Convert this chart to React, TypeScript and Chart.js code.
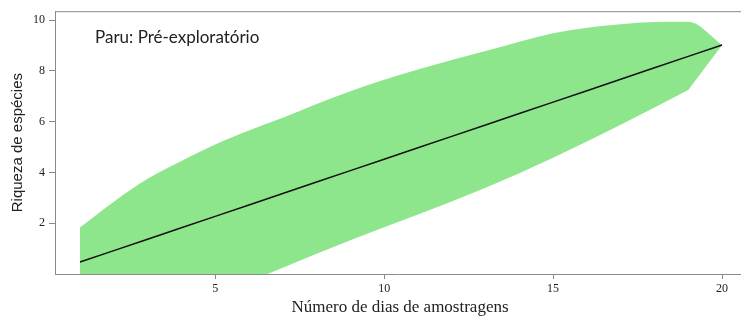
import React, { useEffect, useRef } from "react";
import { Chart, registerables } from "chart.js";

Chart.register(...registerables);

const days = [1, 2, 3, 4, 5, 6, 7, 8, 9, 10, 11, 12, 13, 14, 15, 16, 17, 18, 19, 20];
const meanRichness = [0.47, 0.92, 1.37, 1.82, 2.27, 2.72, 3.17, 3.62, 4.07, 4.52, 4.97, 5.42, 5.87, 6.32, 6.77, 7.22, 7.67, 8.12, 8.57, 9.02];
const upperCI = [1.84, 2.85, 3.75, 4.45, 5.1, 5.65, 6.15, 6.7, 7.2, 7.65, 8.05, 8.43, 8.78, 9.15, 9.48, 9.7, 9.84, 9.92, 9.93, 9.02];
const lowerCI = [-3.0, -2.5, -2.0, -1.5, -0.9, -0.3, 0.25, 0.8, 1.33, 1.84, 2.34, 2.86, 3.4, 3.97, 4.58, 5.22, 5.88, 6.56, 7.25, 9.02];
const xTickValues = [5, 10, 15, 20];
const yTickValues = [2, 4, 6, 8, 10];

const chartTitle = "Paru: Pré-exploratório";
const xTitle = "Número de dias de amostragens";
const yTitle = "Riqueza de espécies";

const AXIS_COLOR = "#8a8a8a";
const SERIF = "'Liberation Serif', 'DejaVu Serif', serif";

export default function App() {
  const ref = useRef<HTMLCanvasElement | null>(null);

  useEffect(() => {
    if (!ref.current) return;
    const textPlugin = {
      id: "textPlugin",
      afterDraw(chart: any) {
        const { ctx, chartArea } = chart;
        ctx.save();
        ctx.strokeStyle = AXIS_COLOR;
        ctx.lineWidth = 1;
        ctx.beginPath();
        ctx.moveTo(chartArea.left, chartArea.top + 0.5);
        ctx.lineTo(chartArea.right, chartArea.top + 0.5);
        ctx.stroke();
        ctx.fillStyle = "#222";
        ctx.font = "17px Lato, 'Open Sans', sans-serif";
        ctx.textAlign = "left";
        ctx.textBaseline = "middle";
        ctx.fillText(chartTitle, 95, 38);
        ctx.font = "17px " + SERIF;
        ctx.textAlign = "center";
        ctx.fillText(xTitle, (chartArea.left + chartArea.right) / 2 + 2, 308);
        ctx.font = "15px 'Liberation Sans', Arial, sans-serif";
        ctx.translate(18, (chartArea.top + chartArea.bottom) / 2);
        ctx.rotate(-Math.PI / 2);
        ctx.fillText(yTitle, 0, 0);
        ctx.restore();
      },
    };

    const chart = new Chart(ref.current, {
      type: "line",
      data: {
        labels: days,
        datasets: [
          {
            label: "Média",
            data: days.map((d, i) => ({ x: d, y: meanRichness[i] })),
            borderColor: "#111",
            borderWidth: 1.5,
            pointRadius: 0,
            fill: false,
            order: 0,
          },
          {
            label: "Superior",
            data: days.map((d, i) => ({ x: d, y: upperCI[i] })),
            borderWidth: 0,
            borderColor: "rgba(0,0,0,0)",
            backgroundColor: "#8de68b",
            pointRadius: 0,
            cubicInterpolationMode: "monotone",
            fill: "+1",
            order: 1,
          },
          {
            label: "Inferior",
            data: days.map((d, i) => ({ x: d, y: lowerCI[i] })),
            borderWidth: 0,
            borderColor: "rgba(0,0,0,0)",
            pointRadius: 0,
            fill: false,
            order: 2,
          },
        ],
      },
      options: {
        responsive: false,
        animation: false,
        devicePixelRatio: 1,
        layout: { padding: { top: 11, right: 0, left: 0, bottom: 0 } },
        plugins: { legend: { display: false }, tooltip: { enabled: false } },
        scales: {
          x: {
            type: "linear",
            min: 0.26,
            max: 20.56,
            afterFit(scale: any) {
              scale.height = 43;
            },
            afterBuildTicks(scale: any) {
              scale.ticks = xTickValues.map((v) => ({ value: v }));
            },
            grid: {
              drawOnChartArea: false,
              drawTicks: true,
              tickLength: 5,
              color: AXIS_COLOR,
            },
            border: { display: true, color: AXIS_COLOR },
            ticks: {
              padding: 3,
              color: "#222",
              font: { family: SERIF, size: 12 },
              maxRotation: 0,
            },
          },
          y: {
            type: "linear",
            min: 0,
            max: 10.35,
            afterFit(scale: any) {
              scale.width = 55;
            },
            afterBuildTicks(scale: any) {
              scale.ticks = yTickValues.map((v) => ({ value: v }));
            },
            grid: {
              drawOnChartArea: false,
              drawTicks: true,
              tickLength: 6,
              color: AXIS_COLOR,
            },
            border: { display: true, color: AXIS_COLOR },
            ticks: {
              padding: 4,
              color: "#222",
              font: { family: SERIF, size: 12 },
            },
          },
        },
      },
      plugins: [textPlugin],
    } as any);
    return () => chart.destroy();
  }, []);

  return (
    <div style={{ position: "absolute", left: 0, top: 0, width: 741, height: 317, background: "#fff" }}>
      <canvas ref={ref} width={741} height={317} style={{ width: 741, height: 317, display: "block" }} />
    </div>
  );
}
